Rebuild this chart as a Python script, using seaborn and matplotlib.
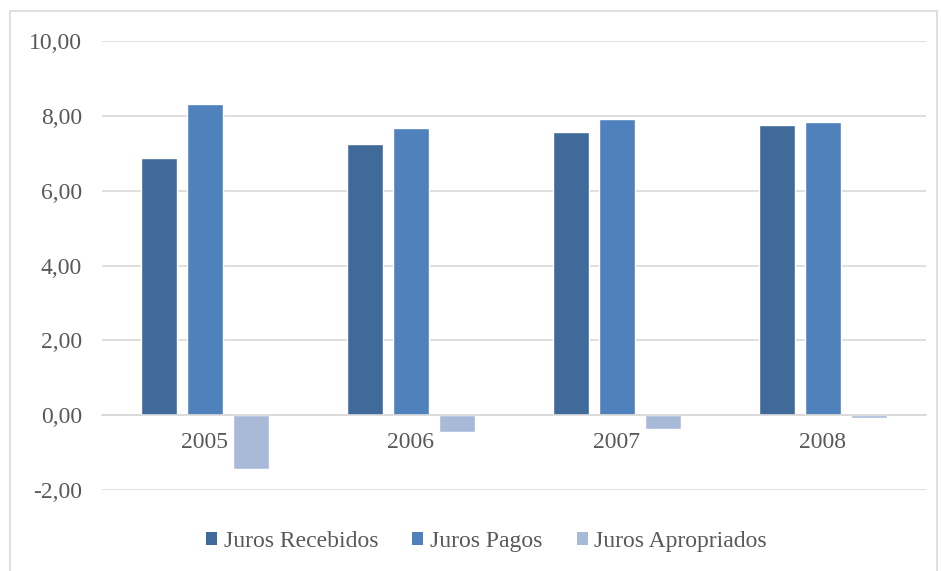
import matplotlib
matplotlib.use("Agg")
import matplotlib.pyplot as plt
import seaborn as sns
import pandas as pd
from matplotlib.patches import Rectangle, Patch

years = ["2005", "2006", "2007", "2008"]
juros_recebidos = [6.87, 7.25, 7.57, 7.77]
juros_pagos = [8.32, 7.67, 7.91, 7.83]
juros_apropriados = [-1.44, -0.45, -0.37, -0.07]
series_names = ["Juros Recebidos", "Juros Pagos", "Juros Apropriados"]
colors = ["#3F6A9A", "#4F81BD", "#A9BAD9"]
yticks = [-2, 0, 2, 4, 6, 8, 10]

rows = []
for name, vals in zip(series_names, [juros_recebidos, juros_pagos, juros_apropriados]):
    for y, v in zip(years, vals):
        rows.append({"Ano": y, "Série": name, "Valor": v})
df = pd.DataFrame(rows)

sns.set_theme(style="white")
plt.rcParams["font.serif"] = ["Liberation Serif", "DejaVu Serif"]
plt.rcParams["font.family"] = "serif"
text_color = "#595959"
fs = 17

fig = plt.figure(figsize=(9.41, 5.71), dpi=100)
ax = fig.add_axes([0.108, 0.142, 0.876, 0.786])

sns.barplot(data=df, x="Ano", y="Valor", hue="Série", hue_order=series_names,
            palette=colors, width=0.67, gap=0.22, ax=ax, legend=False,
            saturation=1, errorbar=None)

ax.set_xlim(-0.5, 3.5)
ax.set_ylim(-2, 10)
ax.set_yticks(yticks)
ax.set_yticklabels([f"{v:.2f}".replace(".", ",") for v in yticks])
ax.yaxis.grid(True, color="#D9D9D9", linewidth=1.2)
ax.set_axisbelow(True)
for s in ["top", "right", "left"]:
    ax.spines[s].set_visible(False)
ax.spines["bottom"].set_position(("data", 0))
ax.spines["bottom"].set_color("#D9D9D9")
ax.spines["bottom"].set_linewidth(1.2)
ax.tick_params(axis="y", length=0, pad=14, labelsize=fs, labelcolor=text_color)
ax.tick_params(axis="x", length=0, pad=12, labelsize=fs, labelcolor=text_color)
ax.set_xlabel("")
ax.set_ylabel("")

handles = [Patch(facecolor=c, edgecolor="none") for c in colors]
fig.legend(handles, series_names, loc="center", bbox_to_anchor=(0.517, 0.052),
           ncol=3, frameon=False, fontsize=fs,
           handlelength=0.47, handleheight=0.47,
           handletextpad=0.28, columnspacing=1.45, labelcolor=text_color)

fig.patches.append(Rectangle((10 / 941, -0.05), 927 / 941, 1.05 - 11 / 571,
                             transform=fig.transFigure, fill=False,
                             edgecolor="#D9D9D9", linewidth=1.2))

fig.savefig("out.png", dpi=100)
